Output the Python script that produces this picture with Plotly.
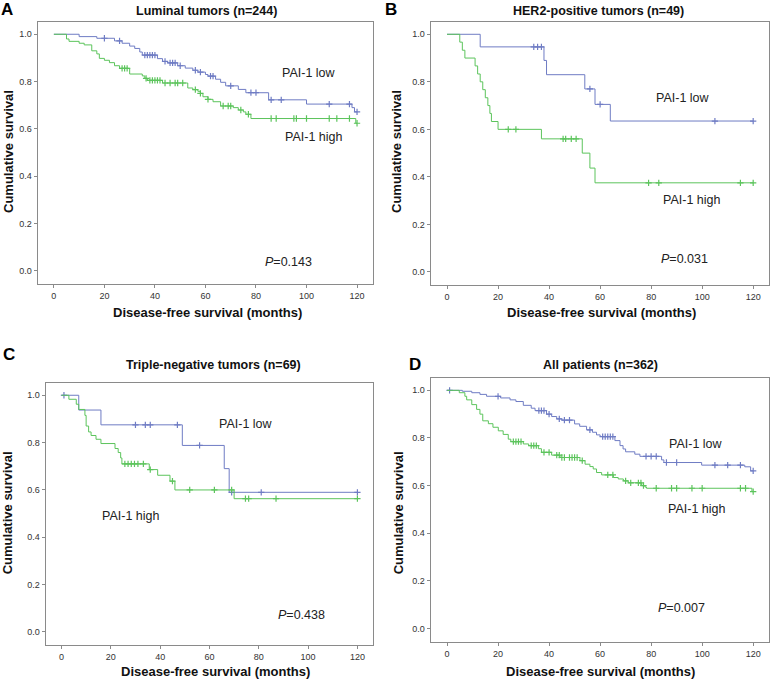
import numpy as np
import plotly.graph_objects as go

W, H = 773, 679

# ---------------- data ----------------
# Panel A: Luminal tumors
A_low_t = [10, 17, 24, 27, 30, 32, 34, 35, 41, 43, 45, 49, 52, 55, 57, 60, 61, 64, 66, 68, 73, 76, 85, 100, 118, 119]
A_low_s = [0.99, 0.983, 0.972, 0.962, 0.95, 0.94, 0.925, 0.912, 0.897, 0.885, 0.879, 0.867, 0.857, 0.848, 0.84, 0.83, 0.823, 0.81, 0.797, 0.782, 0.767, 0.753, 0.723, 0.705, 0.69, 0.672]
A_low_c = [20, 26, 36, 37, 38, 39, 40, 44, 46, 47, 48, 50, 56, 58, 62, 63, 70, 78, 80, 86, 90, 109, 117, 120]
A_high_t = [5, 6, 10, 12, 15, 17, 18, 20, 22, 24, 26, 30, 35, 36, 37, 43, 53, 55, 57, 58, 59, 61, 63, 66, 71, 73, 75, 76, 78, 119.5]
A_high_s = [0.98, 0.97, 0.962, 0.955, 0.93, 0.917, 0.898, 0.89, 0.88, 0.867, 0.856, 0.832, 0.824, 0.814, 0.805, 0.794, 0.773, 0.766, 0.759, 0.75, 0.736, 0.725, 0.715, 0.697, 0.69, 0.68, 0.672, 0.662, 0.644, 0.624]
A_high_c = [27, 28, 29, 36.5, 38, 39, 40, 41, 42, 44, 46, 48, 49, 51, 56, 58, 61, 67, 69, 70, 74, 77, 86, 88, 95, 96, 100, 109, 112, 117, 120]

# Panel B: HER2-positive tumors
B_low_t = [13, 38, 39, 54, 58, 64]
B_low_s = [0.947, 0.89, 0.83, 0.77, 0.705, 0.635]
B_low_c = [34, 35.5, 37, 56, 60, 105, 120]
B_high_t = [5, 6, 7, 11, 12, 13, 14, 15, 16, 16.8, 17.4, 20, 37, 53, 56, 58]
B_high_s = [0.967, 0.933, 0.9, 0.867, 0.833, 0.8, 0.767, 0.733, 0.7, 0.667, 0.633, 0.6, 0.56, 0.5, 0.437, 0.375]
B_high_c = [24, 27, 45.5, 46.5, 48.7, 50.6, 79, 83, 115, 120]

# Panel C: Triple-negative tumors
C_low_t = [7, 16, 49, 66, 68]
C_low_s = [0.9375, 0.875, 0.788, 0.69, 0.59]
C_low_c = [1, 30, 34, 36, 47, 56, 69, 81, 120]
C_high_t = [3, 6, 7, 9.5, 10, 11, 12, 14, 16, 21.7, 23, 24, 24.5, 35.6, 39, 44, 46, 70]
C_high_s = [0.983, 0.962, 0.94, 0.915, 0.87, 0.845, 0.83, 0.814, 0.796, 0.775, 0.758, 0.735, 0.71, 0.686, 0.662, 0.637, 0.6, 0.563]
C_high_c = [25.7, 27, 28.3, 29.6, 31, 33.2, 36, 45, 52, 62, 69, 74.6, 75.9, 87, 120]

# Panel D: All patients
D_low_t = [6, 9.7, 12.9, 15.5, 21, 24.7, 27, 29.9, 33, 34.5, 39, 41, 43, 45, 50, 52, 54.7, 57, 58.6, 60, 65.8, 67.8, 69, 70, 73.6, 75.6, 84.1, 85, 99.8, 116.7, 119]
D_low_s = [0.996, 0.99, 0.983, 0.975, 0.968, 0.96, 0.953, 0.937, 0.925, 0.915, 0.9, 0.89, 0.88, 0.875, 0.859, 0.849, 0.834, 0.824, 0.813, 0.806, 0.789, 0.768, 0.754, 0.742, 0.732, 0.723, 0.708, 0.697, 0.686, 0.679, 0.662]
D_low_c = [1, 20, 36, 37, 38, 40, 44, 46, 48, 56, 61, 62, 63, 64, 65, 78, 80, 82, 86, 90, 105, 110, 115, 120]
D_high_t = [4.8, 7, 7.7, 9.7, 11.6, 12.9, 14, 16.2, 18, 20.1, 22, 24, 25, 29.9, 32, 35.8, 37, 41, 44.3, 52.1, 54.1, 56, 57.3, 58.6, 60.6, 65.2, 67.1, 69.1, 71, 76.3, 77.6, 78.2, 119.5]
D_high_s = [0.99, 0.975, 0.96, 0.94, 0.92, 0.9, 0.872, 0.86, 0.845, 0.83, 0.815, 0.795, 0.785, 0.775, 0.768, 0.755, 0.74, 0.728, 0.718, 0.705, 0.69, 0.68, 0.67, 0.655, 0.645, 0.634, 0.628, 0.62, 0.612, 0.6, 0.594, 0.589, 0.575]
D_high_c = [26, 27, 28, 29, 33, 34, 35, 38, 40, 43, 44, 45, 46, 48, 49, 50, 51, 53, 63, 65, 70, 72, 75, 76, 77, 82, 88, 90, 96, 100, 115, 117, 120]

titles = ["Luminal tumors (n=244)", "HER2-positive tumors (n=49)", "Triple-negative tumors (n=69)", "All patients (n=362)"]
letters = ["A", "B", "C", "D"]
p_values = ["0.143", "0.031", "0.438", "0.007"]
x_ticks = [0, 20, 40, 60, 80, 100, 120]
y_ticks = [0.0, 0.2, 0.4, 0.6, 0.8, 1.0]
x_title = "Disease-free survival (months)"
y_title = "Cumulative survival"

# ---------------- styling / layout ----------------
BLUE = "#6f7cc4"
GREEN = "#5cc45c"
FRAME = "#8a8a8a"
FONT = "Liberation Sans, Arial, sans-serif"

panels = [
    dict(low=(A_low_t, A_low_s, A_low_c), high=(A_high_t, A_high_s, A_high_c),
         dx=[37.7, 372.7], dy=[21.7, 284.0],
         lab_low=(100.8, 0.835), lab_high=(102.6, 0.566), lab_p=(93, 0.04),
         title_xy=(206.7, 11), letter_xy=(7, 10), xt_xy=(208, 312.7), yt_xy=(8, 152)),
    dict(low=(B_low_t, B_low_s, B_low_c), high=(B_high_t, B_high_s, B_high_c),
         dx=[430.7, 769.0], dy=[21.7, 285.0],
         lab_low=(92.5, 0.732), lab_high=(95.8, 0.3025), lab_p=(93.2, 0.056),
         title_xy=(598.8, 11), letter_xy=(391, 10), xt_xy=(601.3, 312.7), yt_xy=(396, 152)),
    dict(low=(C_low_t, C_low_s, C_low_c), high=(C_high_t, C_high_s, C_high_c),
         dx=[45.7, 372.7], dy=[382.7, 645.0],
         lab_low=(74.7, 0.877), lab_high=(28, 0.49), lab_p=(97.2, 0.07),
         title_xy=(213, 365), letter_xy=(9, 354), xt_xy=(215.8, 671.7), yt_xy=(7, 513.3)),
    dict(low=(D_low_t, D_low_s, D_low_c), high=(D_high_t, D_high_s, D_high_c),
         dx=[430.7, 769.0], dy=[377.7, 641.7],
         lab_low=(97.5, 0.775), lab_high=(97.6, 0.504), lab_p=(91.8, 0.087),
         title_xy=(600.5, 365), letter_xy=(415.5, 364), xt_xy=(600.5, 671.7), yt_xy=(398, 513.3)),
]


def px(x):
    return x / W


def py(y):
    return 1 - y / H


def surv_at(times, surv, t):
    idx = np.searchsorted(np.array(times), t, side="right") - 1
    return 1.0 if idx < 0 else surv[idx]


fig = go.Figure()
annotations = []
layout_axes = {}

for i, p in enumerate(panels):
    n = "" if i == 0 else str(i + 1)
    xa, ya = "x" + n, "y" + n
    for key, color in (("low", BLUE), ("high", GREEN)):
        t, s, c = p[key]
        xs = [0] + list(t) + [120]
        ys = [1.0] + list(s) + [s[-1]]
        fig.add_trace(go.Scatter(x=xs, y=ys, mode="lines", line=dict(color=color, width=1, shape="hv"),
                                 xaxis=xa, yaxis=ya, showlegend=False, hoverinfo="skip"))
        cy = [surv_at(t, s, ct) for ct in c]
        fig.add_trace(go.Scatter(x=c, y=cy, mode="markers",
                                 marker=dict(symbol="cross-thin", size=4.5, line=dict(color=color, width=1.2)),
                                 xaxis=xa, yaxis=ya, showlegend=False, hoverinfo="skip"))
    axis_common = dict(showgrid=False, zeroline=False, showline=True, mirror=True, linecolor=FRAME,
                       linewidth=1.2, ticks="outside", ticklen=3, tickcolor=FRAME, automargin=False,
                       tickfont=dict(family=FONT, size=9, color="#333333"))
    layout_axes["xaxis" + n] = dict(axis_common, domain=[px(p["dx"][0]), px(p["dx"][1])],
                                    range=[-6.4, 126.2], tickvals=x_ticks, anchor=ya)
    layout_axes["yaxis" + n] = dict(axis_common, domain=[py(p["dy"][1]), py(p["dy"][0])],
                                    range=[-0.055, 1.053], tickvals=y_ticks, tickformat=".1f", anchor=xa)
    lf = dict(family=FONT, size=12.5, color="#222222")
    common = dict(showarrow=False, xanchor="center", yanchor="middle")
    annotations += [
        dict(common, x=p["lab_low"][0], y=p["lab_low"][1], xref=xa, yref=ya, text="PAI-1 low", font=lf),
        dict(common, x=p["lab_high"][0], y=p["lab_high"][1], xref=xa, yref=ya, text="PAI-1 high", font=lf),
        dict(common, x=p["lab_p"][0], y=p["lab_p"][1], xref=xa, yref=ya, text="<i>P</i>=" + p_values[i], font=lf),
        dict(common, x=px(p["title_xy"][0]), y=py(p["title_xy"][1]), xref="paper", yref="paper",
             text="<b>" + titles[i] + "</b>", font=dict(family=FONT, size=12.5, color="#111111")),
        dict(common, x=px(p["letter_xy"][0]), y=py(p["letter_xy"][1]), xref="paper", yref="paper",
             text="<b>" + letters[i] + "</b>", font=dict(family=FONT, size=17, color="#000000"), borderpad=0),
        dict(common, x=px(p["xt_xy"][0]), y=py(p["xt_xy"][1]), xref="paper", yref="paper",
             text="<b>" + x_title + "</b>", font=dict(family=FONT, size=13, color="#111111")),
        dict(common, x=px(p["yt_xy"][0]), y=py(p["yt_xy"][1]), xref="paper", yref="paper",
             text="<b>" + y_title + "</b>", textangle=-90, font=dict(family=FONT, size=13, color="#111111")),
    ]

fig.update_layout(template="none", width=W, height=H, margin=dict(l=0, r=0, t=0, b=0), plot_bgcolor="white",
                  paper_bgcolor="white", annotations=annotations, **layout_axes)

fig.write_html("out.html", config={"displayModeBar": False},
               post_script="document.body.style.margin='0';document.body.style.overflow='hidden';")
